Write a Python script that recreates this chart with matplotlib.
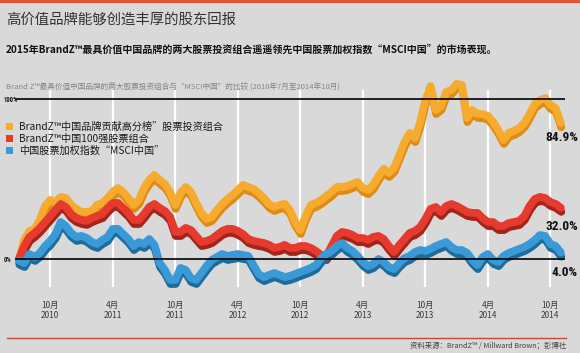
import numpy as np
import matplotlib
matplotlib.use('Agg')
import matplotlib.pyplot as plt
import matplotlib.patheffects as pe
from matplotlib.patches import Rectangle
from matplotlib.lines import Line2D
import logging
logging.getLogger('matplotlib.font_manager').setLevel(logging.ERROR)

plt.rcParams['font.family'] = ['Noto Sans CJK SC', 'DejaVu Sans']

# ---------------- data ----------------
months = np.arange(105) * 0.5  # months since July 2010

brand_top = [0, 11.9, 17.5, 18.8, 24.4, 33.1, 36.9, 35.6, 38.8, 38.1,
             33.8, 31.3, 29.4, 29.4, 30.0, 33.8, 35.0, 38.1, 41.9, 44.4,
             41.9, 38.1, 33.8, 36.9, 44.4, 49.4, 52.5, 49.4, 46.9, 41.9,
             33.8, 41.3, 45.0, 41.9, 35.0, 28.8, 25.0, 26.3, 30.6, 34.4,
             37.5, 40.0, 43.1, 46.3, 45.0, 43.8, 41.3, 38.1, 34.4, 32.5,
             33.8, 34.4, 30.6, 23.1, 18.1, 26.9, 33.8, 35.0, 36.9, 39.4,
             41.9, 45.0, 45.0, 45.6, 46.9, 48.1, 44.4, 43.1, 46.3, 51.9,
             56.3, 53.8, 56.9, 65.0, 73.1, 78.8, 75.6, 85.6, 99.4, 108.1,
             93.1, 95.6, 104.4, 105.6, 109.4, 108.8, 88.1, 93.1, 90.6, 90.6,
             89.4, 85.6, 80.6, 74.4, 78.8, 80.0, 81.9, 85.0, 90.6, 96.9,
             99.4, 100.6, 96.3, 94.4, 84.9]

brandz_100 = [0, 8.1, 13.8, 16.3, 19.4, 23.1, 26.9, 30.6, 34.4, 32.5,
              28.1, 25.6, 24.4, 23.8, 25.6, 26.9, 28.1, 31.9, 35.0, 35.0,
              31.9, 28.8, 24.4, 24.4, 28.1, 32.5, 34.4, 31.9, 30.0, 26.3,
              16.9, 16.9, 19.4, 18.1, 14.4, 10.6, 11.3, 12.5, 15.0, 17.5,
              18.8, 18.8, 17.5, 15.6, 12.5, 11.3, 10.6, 10.0, 8.8, 6.9,
              7.5, 8.8, 6.9, 6.9, 8.1, 8.1, 6.9, 5.0, 2.5, 1.9,
              8.1, 14.4, 16.9, 16.3, 15.0, 13.1, 13.1, 11.9, 13.8, 14.4,
              12.5, 8.1, 4.4, 8.8, 12.5, 16.3, 17.5, 20.0, 25.0, 31.3,
              32.5, 29.4, 33.1, 34.4, 33.1, 31.3, 29.4, 28.8, 28.8, 25.6,
              23.1, 23.1, 20.6, 20.6, 22.5, 23.1, 23.8, 26.9, 33.1, 37.5,
              38.8, 38.1, 35.6, 34.4, 32.0]

msci_china = [-1.0, -2.5, 3.1, 1.3, 3.8, 8.1, 11.3, 15.6, 23.1, 20.6,
              16.3, 13.8, 14.4, 13.1, 10.6, 9.4, 11.9, 13.8, 18.8, 18.8,
              15.6, 12.5, 8.1, 10.6, 9.4, 12.5, 8.8, -2.5, -6.9, -13.1,
              -13.1, -5.6, -6.9, -11.9, -13.1, -8.8, -4.4, -0.6, 1.3, 3.1,
              1.9, 2.5, 3.1, 2.5, 1.9, -3.8, -9.4, -11.3, -10.0, -8.8,
              -10.0, -11.3, -10.6, -9.4, -8.1, -6.9, -5.6, -3.8, 0.6, 3.1,
              5.0, 8.1, 10.0, 6.9, 5.0, 1.9, -1.9, -4.4, -3.1, 0.0,
              -1.9, -5.0, -6.3, -2.5, 0.6, 1.9, 4.4, 5.6, 5.0, 6.3,
              8.1, 9.4, 10.6, 7.5, 5.6, 5.6, 3.8, -0.6, -3.8, 1.3,
              3.1, -0.6, -1.9, 1.9, 3.8, 5.0, 6.3, 7.5, 9.4, 11.9,
              15.0, 14.4, 9.4, 8.1, 4.0]

tick_months = [3, 9, 15, 21, 27, 33, 39, 45, 51]
tick_labels = ['10月\n2010', '4月\n2011', '10月\n2011', '4月\n2012', '10月\n2012',
               '4月\n2013', '10月\n2013', '4月\n2014', '10月\n2014']
legend_labels = ['BrandZ™中国品牌贡献高分榜”股票投资组合',
                 'BrandZ™中国100强股票组合',
                 '中国股票加权指数“MSCI中国”']
end_labels = ['84.9%', '32.0%', '4.0%']

title = '高价值品牌能够创造丰厚的股东回报'
subtitle = '2015年BrandZ™最具价值中国品牌的两大股票投资组合遥遥领先中国股票加权指数“MSCI中国”的市场表现。'
caption = 'Brand Z™最具价值中国品牌的两大股票投资组合与“MSCI中国”的比较 (2010年7月至2014年10月)'
source = '资料来源：BrandZ™ / Millward Brown；彭博社'

# ---------------- styles ----------------
BG = '#d9d9d9'
main_colors = ['#f6ab2f', '#e63a2e', '#3a9ad8']
shadow_colors = ['#e08c12', '#a3241a', '#1d6d9c']
COND = ['Roboto Condensed', 'DejaVu Sans Condensed', 'Roboto', 'DejaVu Sans']

W, H = 580, 353
fig = plt.figure(figsize=(W / 100, H / 100), dpi=100, facecolor=BG)
ax = fig.add_axes([0, 0, 1, 1])
ax.set_facecolor(BG)
X0, PXM = 19.0, 10.42   # pixel of month 0, pixels per month
Y0, PXP = 259.0, 1.6    # pixel of 0%, pixels per percent
ax.set_xlim(-X0 / PXM, (W - X0) / PXM)
ax.set_ylim((Y0 - H) / PXP, Y0 / PXP)
ax.axis('off')


def fx(px):
    return px / W


def fy(py):
    return 1 - py / H


# top bar and bottom rule
fig.add_artist(Rectangle((0, fy(3)), 1, 3 / H, transform=fig.transFigure,
                         color='#e05535', lw=0))
fig.add_artist(Line2D([fx(7), fx(566)], [fy(337.5), fy(337.5)],
                      transform=fig.transFigure, color='#c64a2e', lw=1.0))

# vertical white gridlines
ax.vlines(tick_months, (Y0 - 287) / PXP, (Y0 - 90) / PXP, color='white',
          lw=1.6, zorder=1)

# series
series = [brand_top, brandz_100, msci_china]
for vals, c, sc in zip(series, main_colors, shadow_colors):
    ax.plot(months, vals, color=c, lw=5.6, solid_capstyle='round',
            solid_joinstyle='round', zorder=3,
            path_effects=[pe.SimpleLineShadow(offset=(0.3, -2.9),
                                              shadow_color=sc, alpha=1.0),
                          pe.Normal()])

# 0% and 100% lines
for v in (0, 100):
    ax.plot([-0.4, 52.4], [v, v], color='black', lw=1.2, zorder=5,
            solid_capstyle='butt')
fig.text(fx(4), fy(100), '100%', fontsize=4.8, weight='bold', va='center',
         ha='left', family=COND, color='#111')
fig.text(fx(4), fy(259.5), '0%', fontsize=4.8, weight='bold', va='center',
         ha='left', family=COND, color='#111')

# tick labels
for t, lab in zip(tick_months, tick_labels):
    ax.text(t, fy(310), lab, transform=ax.get_xaxis_transform(), ha='center',
            va='center', fontsize=6, color='#3a3a3a', linespacing=1.15)

# end labels
for lab, py in zip(end_labels, [137, 227, 272]):
    fig.text(fx(578), fy(py), lab, fontsize=9.6, weight='bold', ha='right',
             va='center', family=COND, color='#111')

# legend
for i, (lab, c) in enumerate(zip(legend_labels, main_colors)):
    py = 127 + i * 11.7
    fig.add_artist(Rectangle((fx(6), fy(py + 3.5)), 7 / W, 7 / H,
                             transform=fig.transFigure, color=c, lw=0))
    fig.text(fx(19), fy(py), lab, fontsize=7.3, va='center', ha='left',
             color='#1a1a1a')

# titles
fig.text(fx(6), fy(20), title, fontsize=10.4, color='#333333', va='center',
         ha='left')
fig.text(fx(6), fy(50), subtitle, fontsize=7.2, weight='bold', color='#111111',
         va='center', ha='left')
fig.text(fx(6), fy(87), caption, fontsize=5.5, color='#858585', va='center',
         ha='left')
fig.text(fx(566), fy(346), source, fontsize=5.3, color='#444444', va='center',
         ha='right')

fig.savefig('out.png', dpi=100, facecolor=BG)
